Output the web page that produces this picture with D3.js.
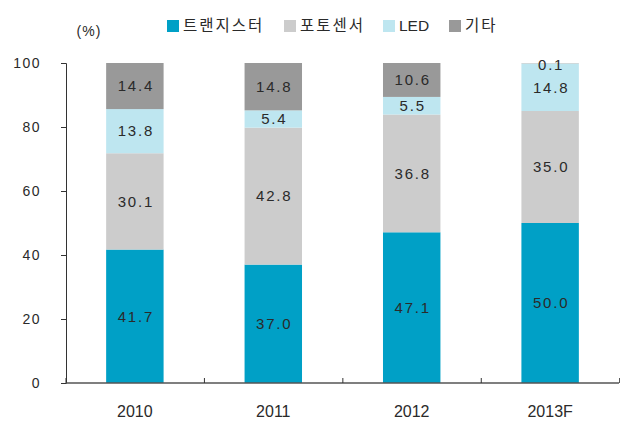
<!DOCTYPE html>
<html>
<head>
<meta charset="utf-8">
<script src="https://cdn.jsdelivr.net/npm/d3@7"></script>
<style>
  body { margin: 0; background: #fff; }
  text { font-family: "Liberation Sans", "Noto Sans CJK KR", sans-serif; fill: #2a2a2a; }
</style>
</head>
<body>
<div id="chart-area"></div>
<script>
// data
var years = ["2010", "2011", "2012", "2013F"];
var seriesNames = ["트랜지스터", "포토센서", "LED", "기타"];
var transistor = [41.7, 37.0, 47.1, 50.0];
var photosensor = [30.1, 42.8, 36.8, 35.0];
var led = [13.8, 5.4, 5.5, 14.8];
var other = [14.4, 14.8, 10.6, 0.1];
var yTicks = [0, 20, 40, 60, 80, 100];
var colors = ["#00a0c6", "#cccccc", "#bee6f0", "#999999"];

var margin = {top: 63, right: 1, bottom: 44, left: 66},
    width = 620 - margin.left - margin.right,
    height = 427 - margin.top - margin.bottom;

var svg = d3.select("#chart-area")
    .append("svg")
        .attr("width", 620)
        .attr("height", 427);

var g = svg.append("g")
    .attr("transform", "translate(" + margin.left + "," + margin.top + ")");

var table = years.map((y, i) => ({
    year: y,
    s0: transistor[i],
    s1: photosensor[i],
    s2: led[i],
    s3: other[i]
}));
var keys = ["s0", "s1", "s2", "s3"];
var stacked = d3.stack().keys(keys)(table);

var x = d3.scaleBand()
    .domain(years)
    .range([0, width])
    .paddingInner(0.585)
    .paddingOuter(0.29);

var y = d3.scaleLinear()
    .domain([0, 100])
    .range([height, 0]);

// bars
stacked.forEach((layer, k) => {
    g.selectAll(".bar" + k)
        .data(layer)
        .enter()
        .append("rect")
            .attr("x", (d) => x(d.data.year))
            .attr("y", (d) => y(d[1]))
            .attr("width", x.bandwidth())
            .attr("height", (d) => y(d[0]) - y(d[1]))
            .attr("fill", colors[k]);
});

// value labels
stacked.forEach((layer, k) => {
    g.selectAll(".lab" + k)
        .data(layer)
        .enter()
        .append("text")
            .attr("x", (d) => x(d.data.year) + x.bandwidth() / 2 + 1)
            .attr("y", (d) => {
                var v = d[1] - d[0];
                if (v < 2) return y(d[1]) + 1; // tiny segment: label sits at top
                return y((d[0] + d[1]) / 2);
            })
            .attr("dy", "0.35em")
            .attr("text-anchor", "middle")
            .attr("font-size", "15px")
            .attr("letter-spacing", "1.8px")
            .text((d) => (d[1] - d[0]).toFixed(1));
});

// y axis
var yAxisCall = d3.axisLeft(y)
    .tickValues(yTicks)
    .tickSize(5)
    .tickPadding(20);
var yAxis = g.append("g")
    .attr("class", "y axis")
    .call(yAxisCall);
yAxis.selectAll("text")
    .attr("font-size", "14px")
    .attr("font-family", "Liberation Sans")
    .attr("letter-spacing", "1.5px")
    .style("fill", "#2a2a2a");
yAxis.select(".domain").attr("stroke", "#333");
yAxis.selectAll(".tick line").attr("stroke", "#333");

// x axis (boundary ticks pointing up)
var xAxis = g.append("g")
    .attr("class", "x axis")
    .attr("transform", "translate(0," + height + ")");
xAxis.append("line")
    .attr("x1", 0).attr("x2", width)
    .attr("stroke", "#555").attr("stroke-width", 1.5);
var step = x.step();
xAxis.selectAll(".xt")
    .data(d3.range(years.length + 1))
    .enter()
    .append("line")
        .attr("x1", (i) => i * step)
        .attr("x2", (i) => i * step)
        .attr("y1", 0).attr("y2", -5)
        .attr("stroke", "#333");
xAxis.selectAll(".xl")
    .data(years)
    .enter()
    .append("text")
        .attr("x", (d) => x(d) + x.bandwidth() / 2)
        .attr("y", 28)
        .attr("dy", "0.35em")
        .attr("text-anchor", "middle")
        .attr("font-size", "16px")
        .text((d) => d);

// unit label
svg.append("text")
    .attr("x", 89)
    .attr("y", 31)
    .attr("dy", "0.35em")
    .attr("text-anchor", "middle")
    .attr("font-size", "14px")
    .attr("letter-spacing", "1px")
    .text("(%)");

// legend
var legendX = [167, 284, 383, 449];
var legend = svg.selectAll(".legend")
    .data(seriesNames)
    .enter()
    .append("g")
        .attr("transform", (d, i) => "translate(" + legendX[i] + ",20)");
legend.append("rect")
    .attr("width", 12).attr("height", 12)
    .attr("fill", (d, i) => colors[i]);
legend.append("text")
    .attr("x", 16)
    .attr("y", 6)
    .attr("dy", "0.35em")
    .attr("font-size", "15.5px")
    .attr("letter-spacing", (d) => d === "LED" ? "0px" : "2px")
    .text((d) => d);
</script>
</body>
</html>
